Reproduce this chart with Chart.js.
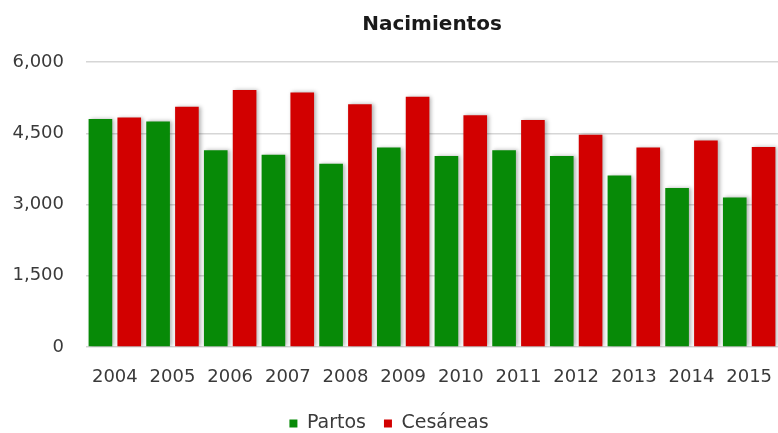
<!DOCTYPE html>
<html>
<head>
<meta charset="utf-8">
<script src="https://cdn.jsdelivr.net/npm/chart.js@4"></script>
<style>
  html, body { margin: 0; padding: 0; background: #fff; overflow: hidden; }
  #wrap { width: 778px; height: 433px; }
</style>
</head>
<body>
<div id="wrap"><canvas id="nacimientos"></canvas></div>
<script>
// Datos
const years = ['2004', '2005', '2006', '2007', '2008', '2009', '2010', '2011', '2012', '2013', '2014', '2015'];
const partos = [4800, 4750, 4140, 4050, 3860, 4200, 4020, 4140, 4020, 3610, 3350, 3150];
const cesareas = [4830, 5060, 5410, 5360, 5110, 5270, 4880, 4780, 4470, 4200, 4350, 4210];
const yTicks = [0, 1500, 3000, 4500, 6000];

const textColor = '#3a3a3a';
const font = 'DejaVu Sans';

// sombra suave detrás de las barras
const barShadow = {
    id: 'barShadow',
    beforeDatasetsDraw(chart) {
        const ctx = chart.ctx;
        ctx.save();
        ctx.shadowColor = 'rgba(0, 0, 0, 0.3)';
        ctx.shadowBlur = 4;
        ctx.shadowOffsetX = 2;
        ctx.shadowOffsetY = 0;
    },
    afterDatasetsDraw(chart) {
        chart.ctx.restore();
    }
};

new Chart(document.getElementById('nacimientos'), {
    type: 'bar',
    data: {
        labels: years,
        datasets: [
            {
                label: 'Partos',
                data: partos,
                backgroundColor: '#078a07',
                categoryPercentage: 1.0,
                barPercentage: 0.82
            },
            {
                label: 'Cesáreas',
                data: cesareas,
                backgroundColor: '#d20000',
                categoryPercentage: 1.0,
                barPercentage: 0.82
            }
        ]
    },
    options: {
        responsive: true,
        maintainAspectRatio: false,
        animation: false,
        layout: { padding: { left: 0, right: 0, top: 0, bottom: -10 } },
        plugins: {
            title: {
                display: true,
                text: 'Nacimientos',
                fullSize: false,
                color: '#1a1a1a',
                font: { family: font, size: 20, weight: 'bold' },
                padding: { top: 13, bottom: 25 }
            },
            legend: {
                display: true,
                position: 'bottom',
                labels: {
                    color: textColor,
                    font: { family: font, size: 19 },
                    boxWidth: 8,
                    boxHeight: 8,
                    padding: 18
                }
            },
            tooltip: { enabled: false }
        },
        scales: {
            x: {
                grid: { display: false, drawTicks: false },
                border: { display: false },
                ticks: {
                    color: textColor,
                    font: { family: font, size: 18 },
                    padding: 20,
                    maxRotation: 0,
                    autoSkip: false
                },
                afterFit: function(scale) {
                    scale.height = 49;
                    scale.paddingLeft = 0;
                    scale.paddingRight = 0;
                }
            },
            y: {
                min: 0,
                max: 6000,
                afterBuildTicks: function(scale) {
                    scale.ticks = yTicks.map(v => ({ value: v }));
                },
                grid: {
                    color: '#d6d6d6',
                    lineWidth: 1.5,
                    drawTicks: false
                },
                border: { display: false },
                ticks: {
                    color: textColor,
                    font: { family: font, size: 18 },
                    padding: 22,
                    callback: function(value) {
                        return value.toLocaleString('en-US');
                    }
                },
                afterFit: function(scale) {
                    scale.width = 86;
                }
            }
        }
    },
    plugins: [barShadow]
});
</script>
</body>
</html>
